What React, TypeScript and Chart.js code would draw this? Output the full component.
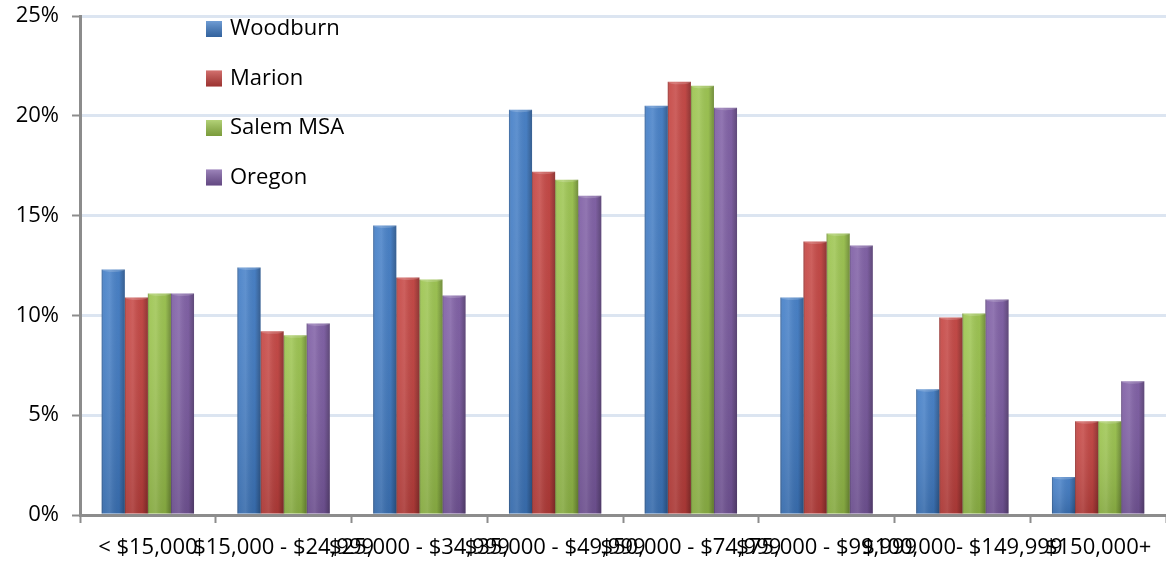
import React, { useEffect, useRef } from "react";
import { Chart, registerables } from "chart.js";

Chart.register(...registerables);

const categories = [
  "< $15,000",
  "$15,000 - $24,999",
  "$25,000 - $34,999",
  "$35,000 - $49,999",
  "$50,000 - $74,999",
  "$75,000 - $99,999",
  "$100,000- $149,999",
  "$150,000+",
];

const woodburn = [12.3, 12.4, 14.5, 20.3, 20.5, 10.9, 6.3, 1.9];
const marion = [10.9, 9.2, 11.9, 17.2, 21.7, 13.7, 9.9, 4.7];
const salemMSA = [11.1, 9.0, 11.8, 16.8, 21.5, 14.1, 10.1, 4.7];
const oregon = [11.1, 9.6, 11.0, 16.0, 20.4, 13.5, 10.8, 6.7];

const seriesNames = ["Woodburn", "Marion", "Salem MSA", "Oregon"];
const seriesColors = ["#407CC6", "#C4413E", "#9AC34B", "#7C5BA3"];

const yTicks = [0, 5, 10, 15, 20, 25];

const FONT = "'Open Sans', 'DejaVu Sans', sans-serif";

const barShade = {
  id: "barShade",
  afterDatasetsDraw(chart: any) {
    const ctx = chart.ctx;
    ctx.save();
    chart.data.datasets.forEach((_: any, di: number) => {
      const meta = chart.getDatasetMeta(di);
      meta.data.forEach((el: any) => {
        const p = el.getProps(["x", "y", "base", "width"], true);
        const l = p.x - p.width / 2;
        const r = p.x + p.width / 2;
        const g = ctx.createLinearGradient(l, 0, r, 0);
        g.addColorStop(0, "rgba(0,0,0,0.28)");
        g.addColorStop(0.1, "rgba(255,255,255,0.06)");
        g.addColorStop(0.35, "rgba(255,255,255,0.12)");
        g.addColorStop(0.75, "rgba(0,0,0,0.04)");
        g.addColorStop(1, "rgba(0,0,0,0.3)");
        ctx.fillStyle = g;
        ctx.fillRect(l, p.y, p.width, p.base - p.y);
        const v = ctx.createLinearGradient(0, p.y, 0, p.base);
        v.addColorStop(0, "rgba(255,255,255,0.05)");
        v.addColorStop(1, "rgba(0,0,0,0.12)");
        ctx.fillStyle = v;
        ctx.fillRect(l, p.y, p.width, p.base - p.y);
        ctx.fillStyle = "rgba(255,255,255,0.18)";
        ctx.beginPath();
        ctx.ellipse(p.x, p.y, p.width / 2, 2.5, 0, 0, Math.PI * 2);
        ctx.fill();
      });
    });
    ctx.restore();
  },
};

const insideLegend = {
  id: "insideLegend",
  afterDraw(chart: any) {
    const ctx = chart.ctx;
    ctx.save();
    ctx.font = `22px ${FONT}`;
    ctx.textBaseline = "middle";
    ctx.textAlign = "left";
    chart.data.datasets.forEach((ds: any, i: number) => {
      const cy = 29 + i * 49.5;
      const bx = 206;
      const size = 16;
      ctx.fillStyle = ds.backgroundColor;
      ctx.fillRect(bx, cy - size / 2, size, size);
      const g = ctx.createLinearGradient(0, cy - size / 2, 0, cy + size / 2);
      g.addColorStop(0, "rgba(255,255,255,0.25)");
      g.addColorStop(1, "rgba(0,0,0,0.2)");
      ctx.fillStyle = g;
      ctx.fillRect(bx, cy - size / 2, size, size);
      ctx.fillStyle = "#000";
      ctx.fillText(ds.label, 230, cy);
    });
    ctx.restore();
  },
};

export default function App() {
  const ref = useRef<HTMLCanvasElement>(null);

  useEffect(() => {
    document.body.style.margin = "0";
    const values = [woodburn, marion, salemMSA, oregon];
    const chart = new Chart(ref.current!, {
      type: "bar",
      data: {
        labels: categories,
        datasets: seriesNames.map((name, i) => ({
          label: name,
          data: values[i],
          backgroundColor: seriesColors[i],
          borderWidth: 0,
          categoryPercentage: 0.68,
          barPercentage: 1.0,
        })),
      },
      options: {
        responsive: false,
        animation: false,
        devicePixelRatio: 1,
        layout: { padding: 0 },
        plugins: {
          legend: { display: false },
          tooltip: { enabled: false },
          title: { display: false },
        },
        scales: {
          x: {
            offset: true,
            afterFit: (s: any) => {
              s.height = 60;
            },
            grid: {
              drawOnChartArea: false,
              drawTicks: true,
              tickLength: 8,
              tickColor: "#8C8C8C",
              tickWidth: 2,
              offset: true,
            },
            border: { display: true, color: "#8C8C8C", width: 3 },
            ticks: {
              autoSkip: false,
              maxRotation: 0,
              minRotation: 0,
              padding: 12,
              color: "#000",
              font: { family: FONT, size: 22 },
            },
          },
          y: {
            min: 0,
            max: 25,
            afterFit: (s: any) => {
              s.width = 80;
              s.paddingTop = 16;
              s.paddingBottom = 0;
            },
            afterBuildTicks: (s: any) => {
              s.ticks = yTicks.map((v) => ({ value: v }));
            },
            grid: {
              color: "#DCE5F1",
              lineWidth: 3,
              drawTicks: true,
              tickLength: 8,
              tickColor: "#8C8C8C",
              tickWidth: 2,
            },
            border: { display: true, color: "#8C8C8C", width: 3 },
            ticks: {
              padding: 13,
              color: "#000",
              font: { family: FONT, size: 22 },
              callback: (v: any) => `${v}%`,
            },
          },
        },
      },
      plugins: [barShade, insideLegend],
    });
    return () => chart.destroy();
  }, []);

  return (
    <div style={{ position: "absolute", left: 0, top: 0, width: 1166, height: 575 }}>
      <canvas ref={ref} width={1166} height={575} />
    </div>
  );
}
